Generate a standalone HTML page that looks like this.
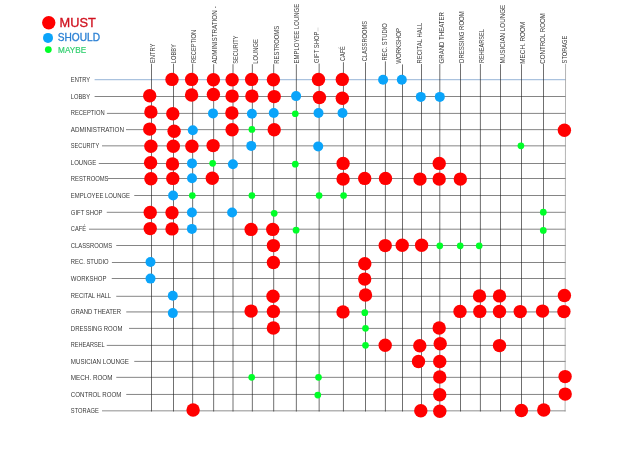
<!DOCTYPE html>
<html lang="en">
<head>
<meta charset="utf-8">
<title>Adjacency Matrix</title>
<style>
html,body{margin:0;padding:0;background:#fff;}
body{width:640px;height:451px;overflow:hidden;}
svg{display:block;}
text{font-family:"Liberation Sans",sans-serif;}
.rl{font-size:6.5px;fill:#383838;}
.cl{font-size:7px;fill:#3a3a3a;}
</style>
</head>
<body>
<svg width="640" height="451" viewBox="0 0 640 451">
<rect width="640" height="451" fill="#ffffff"/>

<g fill="none" stroke-width="0.8">
<line x1="94.6" y1="79.6" x2="565.6" y2="79.6" stroke="#aac2de" stroke-width="1.1"/>
<line x1="94.6" y1="96.5" x2="565.6" y2="96.5" stroke="#333333" stroke-width="0.6"/>
<line x1="106.9" y1="113.4" x2="565.6" y2="113.4" stroke="#333333" stroke-width="0.6"/>
<line x1="126.0" y1="129.65" x2="565.6" y2="129.65" stroke="#333333" stroke-width="0.6"/>
<line x1="102.0" y1="145.85" x2="565.6" y2="145.85" stroke="#333333" stroke-width="0.6"/>
<line x1="98.75" y1="163.5" x2="565.6" y2="163.5" stroke="#333333" stroke-width="0.6"/>
<line x1="108.0" y1="178.5" x2="565.6" y2="178.5" stroke="#333333" stroke-width="0.6"/>
<line x1="134.25" y1="195.5" x2="565.6" y2="195.5" stroke="#333333" stroke-width="0.6"/>
<line x1="106.75" y1="212.3" x2="565.6" y2="212.3" stroke="#333333" stroke-width="0.6"/>
<line x1="89.0" y1="229.2" x2="565.6" y2="229.2" stroke="#333333" stroke-width="0.6"/>
<line x1="116.25" y1="245.5" x2="565.6" y2="245.5" stroke="#333333" stroke-width="0.6"/>
<line x1="111.9" y1="262.5" x2="565.6" y2="262.5" stroke="#333333" stroke-width="0.6"/>
<line x1="111.75" y1="278.5" x2="565.6" y2="278.5" stroke="#333333" stroke-width="0.6"/>
<line x1="116.25" y1="296.3" x2="565.6" y2="296.3" stroke="#333333" stroke-width="0.6"/>
<line x1="126.25" y1="311.8" x2="565.6" y2="311.8" stroke="#b4b4b4" stroke-width="1.7"/>
<line x1="129.0" y1="328.4" x2="565.6" y2="328.4" stroke="#333333" stroke-width="0.6"/>
<line x1="106.75" y1="345.4" x2="565.6" y2="345.4" stroke="#333333" stroke-width="0.6"/>
<line x1="134.25" y1="361.4" x2="565.6" y2="361.4" stroke="#333333" stroke-width="0.6"/>
<line x1="116.25" y1="377.35" x2="565.6" y2="377.35" stroke="#333333" stroke-width="0.6"/>
<line x1="126.25" y1="394.45" x2="565.6" y2="394.45" stroke="#333333" stroke-width="0.6"/>
<line x1="102.0" y1="410.75" x2="565.6" y2="410.75" stroke="#b4b4b4" stroke-width="1.7"/>
<line x1="151.5" y1="63.7" x2="151.5" y2="411.5" stroke="#222222" stroke-width="0.65"/>
<line x1="173.5" y1="63.7" x2="173.5" y2="411.5" stroke="#222222" stroke-width="0.65"/>
<line x1="192.65" y1="63.7" x2="192.65" y2="411.5" stroke="#222222" stroke-width="0.65"/>
<line x1="213.65" y1="64.2" x2="213.65" y2="411.5" stroke="#222222" stroke-width="0.65"/>
<line x1="233.0" y1="64.2" x2="233.0" y2="411.5" stroke="#222222" stroke-width="0.65"/>
<line x1="252.35" y1="64.2" x2="252.35" y2="411.5" stroke="#222222" stroke-width="0.65"/>
<line x1="273.7" y1="64.2" x2="273.7" y2="411.5" stroke="#222222" stroke-width="0.65"/>
<line x1="296.35" y1="64.2" x2="296.35" y2="411.5" stroke="#222222" stroke-width="0.65"/>
<line x1="319.15" y1="63.5" x2="319.15" y2="411.5" stroke="#222222" stroke-width="0.65"/>
<line x1="343.45" y1="62.2" x2="343.45" y2="411.5" stroke="#222222" stroke-width="0.65"/>
<line x1="365.5" y1="62.1" x2="365.5" y2="411.5" stroke="#222222" stroke-width="0.65"/>
<line x1="385.4" y1="61.3" x2="385.4" y2="411.5" stroke="#222222" stroke-width="0.65"/>
<line x1="402.5" y1="64.4" x2="402.5" y2="411.5" stroke="#222222" stroke-width="0.65"/>
<line x1="421.5" y1="64.0" x2="421.5" y2="411.5" stroke="#222222" stroke-width="0.65"/>
<line x1="439.8" y1="64.0" x2="439.8" y2="411.5" stroke="#222222" stroke-width="0.65"/>
<line x1="460.5" y1="63.4" x2="460.5" y2="411.5" stroke="#222222" stroke-width="0.65"/>
<line x1="480.4" y1="64.0" x2="480.4" y2="411.5" stroke="#222222" stroke-width="0.65"/>
<line x1="500.5" y1="64.2" x2="500.5" y2="411.5" stroke="#222222" stroke-width="0.65"/>
<line x1="521.5" y1="64.2" x2="521.5" y2="411.5" stroke="#222222" stroke-width="0.65"/>
<line x1="543.5" y1="64.0" x2="543.5" y2="411.5" stroke="#222222" stroke-width="0.65"/>
<line x1="565.55" y1="64.0" x2="565.1" y2="411.5" stroke="#858585" stroke-width="0.62"/>
<line x1="318.0" y1="27.5" x2="318.0" y2="31.5" stroke="#cfcfcf" stroke-width="0.8"/>
</g>
<g>
<circle cx="172.0" cy="79.4" r="6.7" fill="#ff0000"/>
<circle cx="191.6" cy="79.4" r="6.7" fill="#ff0000"/>
<circle cx="213.4" cy="79.7" r="6.7" fill="#ff0000"/>
<circle cx="232.1" cy="79.7" r="6.7" fill="#ff0000"/>
<circle cx="251.6" cy="79.4" r="6.7" fill="#ff0000"/>
<circle cx="273.4" cy="79.7" r="6.7" fill="#ff0000"/>
<circle cx="318.5" cy="79.55" r="6.7" fill="#ff0000"/>
<circle cx="342.3" cy="79.4" r="6.7" fill="#ff0000"/>
<circle cx="383.1" cy="79.7" r="5.0" fill="#0aa4fa"/>
<circle cx="401.8" cy="79.7" r="5.0" fill="#0aa4fa"/>
<circle cx="149.7" cy="95.8" r="6.7" fill="#ff0000"/>
<circle cx="191.6" cy="95.0" r="6.7" fill="#ff0000"/>
<circle cx="213.4" cy="94.5" r="6.7" fill="#ff0000"/>
<circle cx="232.1" cy="96.1" r="6.7" fill="#ff0000"/>
<circle cx="251.9" cy="96.1" r="6.7" fill="#ff0000"/>
<circle cx="274.2" cy="96.6" r="6.7" fill="#ff0000"/>
<circle cx="296.1" cy="96.1" r="5.0" fill="#0aa4fa"/>
<circle cx="319.45" cy="97.5" r="6.7" fill="#ff0000"/>
<circle cx="342.3" cy="98.3" r="6.7" fill="#ff0000"/>
<circle cx="420.8" cy="96.9" r="5.0" fill="#0aa4fa"/>
<circle cx="439.8" cy="96.9" r="5.0" fill="#0aa4fa"/>
<circle cx="150.9" cy="111.9" r="6.7" fill="#ff0000"/>
<circle cx="172.8" cy="113.75" r="6.7" fill="#ff0000"/>
<circle cx="213.0" cy="113.4" r="5.0" fill="#0aa4fa"/>
<circle cx="231.9" cy="113.0" r="6.7" fill="#ff0000"/>
<circle cx="251.9" cy="113.75" r="5.0" fill="#0aa4fa"/>
<circle cx="273.75" cy="113.0" r="5.0" fill="#0aa4fa"/>
<circle cx="295.3" cy="113.75" r="3.35" fill="#00ff28"/>
<circle cx="318.5" cy="113.0" r="5.0" fill="#0aa4fa"/>
<circle cx="342.5" cy="113.0" r="5.0" fill="#0aa4fa"/>
<circle cx="149.7" cy="129.1" r="6.7" fill="#ff0000"/>
<circle cx="174.1" cy="131.25" r="6.7" fill="#ff0000"/>
<circle cx="192.8" cy="130.2" r="5.0" fill="#0aa4fa"/>
<circle cx="232.1" cy="129.7" r="6.7" fill="#ff0000"/>
<circle cx="251.9" cy="129.4" r="3.35" fill="#00ff28"/>
<circle cx="274.2" cy="129.7" r="6.7" fill="#ff0000"/>
<circle cx="564.4" cy="130.3" r="6.7" fill="#ff0000"/>
<circle cx="150.9" cy="146.25" r="6.7" fill="#ff0000"/>
<circle cx="173.3" cy="146.25" r="6.7" fill="#ff0000"/>
<circle cx="191.9" cy="146.25" r="6.7" fill="#ff0000"/>
<circle cx="213.1" cy="145.6" r="6.7" fill="#ff0000"/>
<circle cx="251.25" cy="145.9" r="5.0" fill="#0aa4fa"/>
<circle cx="318.2" cy="146.4" r="5.0" fill="#0aa4fa"/>
<circle cx="520.9" cy="145.8" r="3.35" fill="#00ff28"/>
<circle cx="150.6" cy="162.8" r="6.7" fill="#ff0000"/>
<circle cx="172.5" cy="163.9" r="6.7" fill="#ff0000"/>
<circle cx="192.0" cy="163.4" r="5.0" fill="#0aa4fa"/>
<circle cx="212.65" cy="163.3" r="3.35" fill="#00ff28"/>
<circle cx="232.9" cy="164.2" r="5.0" fill="#0aa4fa"/>
<circle cx="295.3" cy="164.2" r="3.35" fill="#00ff28"/>
<circle cx="343.1" cy="163.4" r="6.7" fill="#ff0000"/>
<circle cx="439.2" cy="163.4" r="6.7" fill="#ff0000"/>
<circle cx="150.9" cy="178.75" r="6.7" fill="#ff0000"/>
<circle cx="172.8" cy="178.4" r="6.7" fill="#ff0000"/>
<circle cx="192.0" cy="178.3" r="5.0" fill="#0aa4fa"/>
<circle cx="212.3" cy="178.3" r="6.7" fill="#ff0000"/>
<circle cx="343.1" cy="179.1" r="6.7" fill="#ff0000"/>
<circle cx="364.7" cy="178.4" r="6.7" fill="#ff0000"/>
<circle cx="385.5" cy="178.4" r="6.7" fill="#ff0000"/>
<circle cx="420.0" cy="179.1" r="6.7" fill="#ff0000"/>
<circle cx="439.2" cy="179.1" r="6.7" fill="#ff0000"/>
<circle cx="460.3" cy="179.1" r="6.7" fill="#ff0000"/>
<circle cx="173.1" cy="195.5" r="5.0" fill="#0aa4fa"/>
<circle cx="192.3" cy="195.5" r="3.35" fill="#00ff28"/>
<circle cx="251.9" cy="195.5" r="3.35" fill="#00ff28"/>
<circle cx="319.1" cy="195.5" r="3.35" fill="#00ff28"/>
<circle cx="343.6" cy="195.5" r="3.35" fill="#00ff28"/>
<circle cx="150.2" cy="212.5" r="6.7" fill="#ff0000"/>
<circle cx="172.0" cy="212.8" r="6.7" fill="#ff0000"/>
<circle cx="191.9" cy="212.5" r="5.0" fill="#0aa4fa"/>
<circle cx="232.1" cy="212.5" r="5.0" fill="#0aa4fa"/>
<circle cx="274.2" cy="213.3" r="3.35" fill="#00ff28"/>
<circle cx="543.3" cy="212.2" r="3.35" fill="#00ff28"/>
<circle cx="150.2" cy="228.6" r="6.7" fill="#ff0000"/>
<circle cx="172.0" cy="228.9" r="6.7" fill="#ff0000"/>
<circle cx="191.9" cy="228.9" r="5.0" fill="#0aa4fa"/>
<circle cx="251.1" cy="229.4" r="6.7" fill="#ff0000"/>
<circle cx="272.7" cy="229.4" r="6.7" fill="#ff0000"/>
<circle cx="296.1" cy="230.2" r="3.35" fill="#00ff28"/>
<circle cx="543.3" cy="230.4" r="3.35" fill="#00ff28"/>
<circle cx="273.4" cy="245.6" r="6.7" fill="#ff0000"/>
<circle cx="385.2" cy="245.6" r="6.7" fill="#ff0000"/>
<circle cx="402.2" cy="245.3" r="6.7" fill="#ff0000"/>
<circle cx="421.6" cy="245.3" r="6.7" fill="#ff0000"/>
<circle cx="439.8" cy="245.8" r="3.35" fill="#00ff28"/>
<circle cx="460.2" cy="245.8" r="3.35" fill="#00ff28"/>
<circle cx="479.2" cy="245.8" r="3.35" fill="#00ff28"/>
<circle cx="150.5" cy="262.0" r="5.0" fill="#0aa4fa"/>
<circle cx="273.4" cy="262.5" r="6.7" fill="#ff0000"/>
<circle cx="364.8" cy="263.75" r="6.7" fill="#ff0000"/>
<circle cx="150.5" cy="278.6" r="5.0" fill="#0aa4fa"/>
<circle cx="364.7" cy="279.1" r="6.7" fill="#ff0000"/>
<circle cx="172.8" cy="295.8" r="5.0" fill="#0aa4fa"/>
<circle cx="273.0" cy="296.25" r="6.7" fill="#ff0000"/>
<circle cx="365.5" cy="295.0" r="6.7" fill="#ff0000"/>
<circle cx="479.5" cy="295.9" r="6.7" fill="#ff0000"/>
<circle cx="499.5" cy="295.9" r="6.7" fill="#ff0000"/>
<circle cx="564.4" cy="295.5" r="6.7" fill="#ff0000"/>
<circle cx="172.8" cy="313.1" r="5.0" fill="#0aa4fa"/>
<circle cx="251.1" cy="311.1" r="6.7" fill="#ff0000"/>
<circle cx="273.4" cy="311.4" r="6.7" fill="#ff0000"/>
<circle cx="343.0" cy="311.9" r="6.7" fill="#ff0000"/>
<circle cx="364.8" cy="312.65" r="3.35" fill="#00ff28"/>
<circle cx="460.0" cy="311.4" r="6.7" fill="#ff0000"/>
<circle cx="479.8" cy="311.4" r="6.7" fill="#ff0000"/>
<circle cx="499.5" cy="311.5" r="6.7" fill="#ff0000"/>
<circle cx="520.2" cy="311.6" r="6.7" fill="#ff0000"/>
<circle cx="542.5" cy="311.1" r="6.7" fill="#ff0000"/>
<circle cx="563.9" cy="311.6" r="6.7" fill="#ff0000"/>
<circle cx="273.4" cy="328.0" r="6.7" fill="#ff0000"/>
<circle cx="365.5" cy="328.3" r="3.35" fill="#00ff28"/>
<circle cx="439.2" cy="328.0" r="6.7" fill="#ff0000"/>
<circle cx="365.5" cy="345.3" r="3.35" fill="#00ff28"/>
<circle cx="385.2" cy="345.3" r="6.7" fill="#ff0000"/>
<circle cx="419.8" cy="345.75" r="6.7" fill="#ff0000"/>
<circle cx="440.2" cy="343.75" r="6.7" fill="#ff0000"/>
<circle cx="499.5" cy="345.6" r="6.7" fill="#ff0000"/>
<circle cx="418.5" cy="361.5" r="6.7" fill="#ff0000"/>
<circle cx="439.75" cy="361.5" r="6.7" fill="#ff0000"/>
<circle cx="251.7" cy="377.3" r="3.35" fill="#00ff28"/>
<circle cx="318.5" cy="377.3" r="3.35" fill="#00ff28"/>
<circle cx="439.75" cy="377.05" r="6.7" fill="#ff0000"/>
<circle cx="565.1" cy="376.6" r="6.7" fill="#ff0000"/>
<circle cx="317.8" cy="395.1" r="3.35" fill="#00ff28"/>
<circle cx="439.75" cy="394.8" r="6.7" fill="#ff0000"/>
<circle cx="565.2" cy="394.1" r="6.7" fill="#ff0000"/>
<circle cx="193.1" cy="410.0" r="6.7" fill="#ff0000"/>
<circle cx="420.8" cy="410.8" r="6.7" fill="#ff0000"/>
<circle cx="439.8" cy="411.2" r="6.7" fill="#ff0000"/>
<circle cx="521.4" cy="410.5" r="6.7" fill="#ff0000"/>
<circle cx="543.75" cy="410.0" r="6.7" fill="#ff0000"/>
</g>
<g class="rl">
<text x="70.8" y="82.00" textLength="19.38" lengthAdjust="spacingAndGlyphs">ENTRY</text>
<text x="70.8" y="98.58" textLength="19.17" lengthAdjust="spacingAndGlyphs">LOBBY</text>
<text x="70.8" y="115.16" textLength="33.81" lengthAdjust="spacingAndGlyphs">RECEPTION</text>
<text x="70.8" y="131.74" textLength="53.13" lengthAdjust="spacingAndGlyphs">ADMINISTRATION</text>
<text x="70.8" y="148.32" textLength="28.52" lengthAdjust="spacingAndGlyphs">SECURITY</text>
<text x="70.8" y="164.90" textLength="25.48" lengthAdjust="spacingAndGlyphs">LOUNGE</text>
<text x="70.8" y="181.48" textLength="37.73" lengthAdjust="spacingAndGlyphs">RESTROOMS</text>
<text x="70.8" y="198.06" textLength="59.17" lengthAdjust="spacingAndGlyphs">EMPLOYEE LOUNGE</text>
<text x="70.8" y="214.64" textLength="31.73" lengthAdjust="spacingAndGlyphs">GIFT SHOP</text>
<text x="70.8" y="231.22" textLength="15.14" lengthAdjust="spacingAndGlyphs">CAFÉ</text>
<text x="70.8" y="247.80" textLength="41.33" lengthAdjust="spacingAndGlyphs">CLASSROOMS</text>
<text x="70.8" y="264.38" textLength="37.79" lengthAdjust="spacingAndGlyphs">REC. STUDIO</text>
<text x="70.8" y="280.96" textLength="35.69" lengthAdjust="spacingAndGlyphs">WORKSHOP</text>
<text x="70.8" y="297.54" textLength="40.29" lengthAdjust="spacingAndGlyphs">RECITAL HALL</text>
<text x="70.8" y="314.12" textLength="50.32" lengthAdjust="spacingAndGlyphs">GRAND THEATER</text>
<text x="70.8" y="330.70" textLength="51.62" lengthAdjust="spacingAndGlyphs">DRESSING ROOM</text>
<text x="70.8" y="347.28" textLength="33.87" lengthAdjust="spacingAndGlyphs">REHEARSEL</text>
<text x="70.8" y="363.86" textLength="58.14" lengthAdjust="spacingAndGlyphs">MUSICIAN LOUNGE</text>
<text x="70.8" y="380.44" textLength="41.74" lengthAdjust="spacingAndGlyphs">MECH. ROOM</text>
<text x="70.8" y="397.02" textLength="50.52" lengthAdjust="spacingAndGlyphs">CONTROL ROOM</text>
<text x="70.8" y="413.00" textLength="27.98" lengthAdjust="spacingAndGlyphs">STORAGE</text>
</g>
<g class="cl">
<text transform="translate(155.0,63.1) rotate(-90)" textLength="19.4" lengthAdjust="spacingAndGlyphs">ENTRY</text>
<text transform="translate(175.8,63.2) rotate(-90)" textLength="19.0" lengthAdjust="spacingAndGlyphs">LOBBY</text>
<text transform="translate(195.9,63.1) rotate(-90)" textLength="33.1" lengthAdjust="spacingAndGlyphs">RECEPTION</text>
<text transform="translate(217.0,63.6) rotate(-90)" textLength="53.4" lengthAdjust="spacingAndGlyphs">ADMINISTRATION</text>
<text transform="translate(237.5,63.7) rotate(-90)" textLength="28.2" lengthAdjust="spacingAndGlyphs">SECURITY</text>
<text transform="translate(257.8,63.7) rotate(-90)" textLength="24.6" lengthAdjust="spacingAndGlyphs">LOUNGE</text>
<text transform="translate(278.7,63.7) rotate(-90)" textLength="37.9" lengthAdjust="spacingAndGlyphs">RESTROOMS</text>
<text transform="translate(299.4,63.5) rotate(-90)" textLength="59.7" lengthAdjust="spacingAndGlyphs">EMPLOYEE LOUNGE</text>
<text transform="translate(319.2,63.1) rotate(-90)" textLength="31.5" lengthAdjust="spacingAndGlyphs">GIFT SHOP</text>
<text transform="translate(345.4,60.9) rotate(-90)" textLength="14.6" lengthAdjust="spacingAndGlyphs">CAFÉ</text>
<text transform="translate(366.7,61.3) rotate(-90)" textLength="40.3" lengthAdjust="spacingAndGlyphs">CLASSROOMS</text>
<text transform="translate(386.9,60.6) rotate(-90)" textLength="37.3" lengthAdjust="spacingAndGlyphs">REC. STUDIO</text>
<text transform="translate(401.3,63.7) rotate(-90)" textLength="35.7" lengthAdjust="spacingAndGlyphs">WORKSHOP</text>
<text transform="translate(422.1,63.6) rotate(-90)" textLength="41.0" lengthAdjust="spacingAndGlyphs">RECITAL HALL</text>
<text transform="translate(444.0,63.4) rotate(-90)" textLength="51.3" lengthAdjust="spacingAndGlyphs">GRAND THEATER</text>
<text transform="translate(463.7,62.9) rotate(-90)" textLength="51.7" lengthAdjust="spacingAndGlyphs">DRESSING ROOM</text>
<text transform="translate(484.4,62.9) rotate(-90)" textLength="33.7" lengthAdjust="spacingAndGlyphs">REHEARSEL</text>
<text transform="translate(505.2,63.5) rotate(-90)" textLength="58.8" lengthAdjust="spacingAndGlyphs">MUSICIAN LOUNGE</text>
<text transform="translate(524.9,63.7) rotate(-90)" textLength="42.0" lengthAdjust="spacingAndGlyphs">MECH. ROOM</text>
<text transform="translate(545.1,63.7) rotate(-90)" textLength="50.5" lengthAdjust="spacingAndGlyphs">CONTROL ROOM</text>
<text transform="translate(566.5,63.4) rotate(-90)" textLength="27.7" lengthAdjust="spacingAndGlyphs">STORAGE</text>
<text transform="translate(217.0,8.3) rotate(-90)" textLength="2" lengthAdjust="spacingAndGlyphs">-</text>
</g>
<circle cx="48.75" cy="22.8" r="6.7" fill="#ff0000"/>
<circle cx="48.0" cy="37.9" r="5.0" fill="#0aa4fa"/>
<circle cx="48.3" cy="49.6" r="3.4" fill="#00ff28"/>
<text x="59.6" y="26.7" font-size="12.2" fill="#d0121f" stroke="#d0121f" stroke-width="0.3" textLength="36.2" lengthAdjust="spacingAndGlyphs">MUST</text>
<text x="57.8" y="41.3" font-size="10.2" fill="#2b80d4" stroke="#2b80d4" stroke-width="0.3" textLength="42.2" lengthAdjust="spacingAndGlyphs">SHOULD</text>
<text x="58.1" y="53.35" font-size="8.7" fill="#33d070" stroke="#33d070" stroke-width="0.2" textLength="28.0" lengthAdjust="spacingAndGlyphs">MAYBE</text>
</svg>
</body>
</html>
